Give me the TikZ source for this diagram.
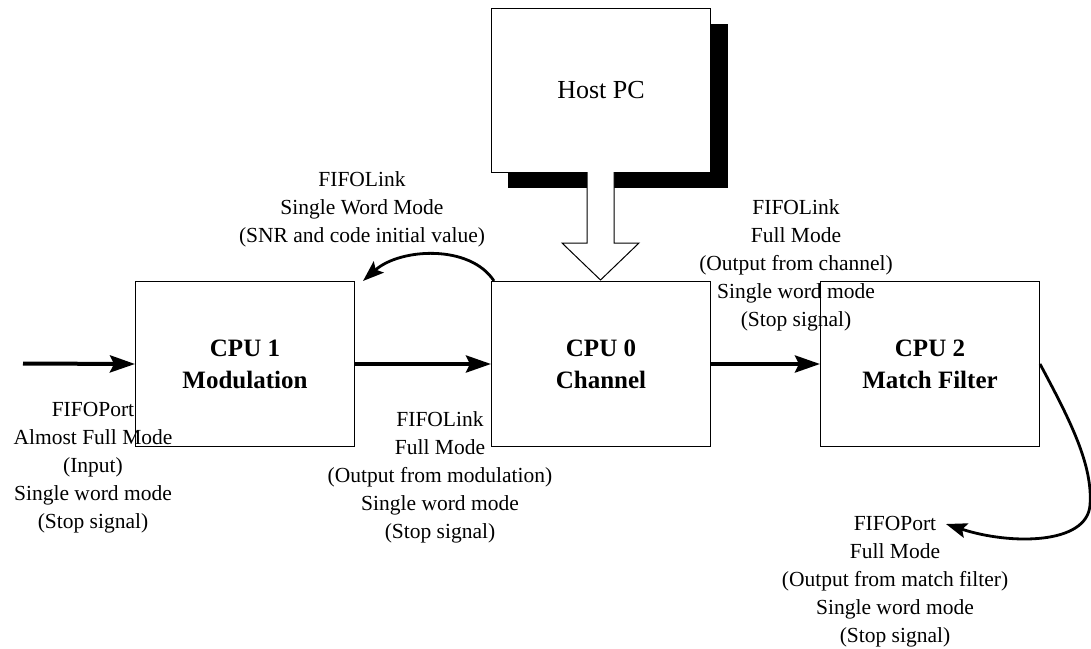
\documentclass[tikz,border=0pt]{standalone}
\usepackage{fontspec}
\setmainfont{Liberation Serif}
\usetikzlibrary{arrows.meta}
\begin{document}
\begin{tikzpicture}[x=1pt,y=-1pt,
  box/.style={draw, line width=1pt, fill=white, minimum width=219pt, minimum height=165pt,
    inner sep=0pt, anchor=north west, align=center},
  cpulbl/.style={font=\fontsize{25}{32}\selectfont\bfseries},
  lbl/.style={align=center, inner sep=0pt, font=\fontsize{21.5}{28}\selectfont},
  thickarrow/.style={line width=4pt, -{Stealth[length=25pt,width=17pt,inset=4pt]}},
  curvearrow/.style={line width=2.8pt, -{Stealth[length=21pt,width=15pt,inset=4pt]}}]
\useasboundingbox (0,0) rectangle (1091,648);
% shadow of Host PC
\fill[black] (508,24) rectangle (728,188);
\node[box, minimum height=164pt, font=\fontsize{26}{30}\selectfont] (host) at (491,8) {Host PC};
% hollow arrow
\fill[white] (587,172) -- (587,243) -- (562,243) -- (600.5,280) -- (639,243) -- (614,243) -- (614,172) -- cycle;
\draw[line width=1pt] (587,172) -- (587,243) -- (562,243) -- (600.5,280) -- (639,243) -- (614,243) -- (614,172);
% CPU boxes
\node[box, cpulbl] (cpu1) at (135,281) {CPU 1\\Modulation};
\node[box, cpulbl] (cpu0) at (491,281) {CPU 0\\Channel};
\node[box, cpulbl] (cpu2) at (820,281) {CPU 2\\Match Filter};
% labels
\node[lbl] (l1) at (362,209) {FIFOLink\\Single Word Mode\\(SNR and code initial value)};
\node[lbl] (l2) at (93,468) {FIFOPort\\Almost Full Mode\\(Input)\\Single word mode\\(Stop signal)};
\node[lbl] (l3) at (440,477) {FIFOLink\\Full Mode\\(Output from modulation)\\Single word mode\\(Stop signal)};
\node[lbl] (l4) at (796,265) {FIFOLink\\Full Mode\\(Output from channel)\\Single word mode\\(Stop signal)};
\node[lbl] (l5) at (895,582) {FIFOPort\\Full Mode\\(Output from match filter)\\Single word mode\\(Stop signal)};
% connectors
\coordinate (in) at (23,363.5);
\coordinate (fpin) at (946,524);
\draw[thickarrow] (in) -- (cpu1.west);
\draw[thickarrow] (cpu1.east) -- (cpu0.west);
\draw[thickarrow] (cpu0.east) -- (cpu2.west);
\draw[curvearrow] ([xshift=3pt]cpu0.north west) .. controls (470,244) and (400,248) .. ([xshift=8pt]cpu1.north east);
\draw[curvearrow] (cpu2.east) .. controls (1070,420) and (1093,465) .. (1090,505)
  .. controls (1087,545) and (1010,545) .. (fpin);
\end{tikzpicture}
\end{document}
